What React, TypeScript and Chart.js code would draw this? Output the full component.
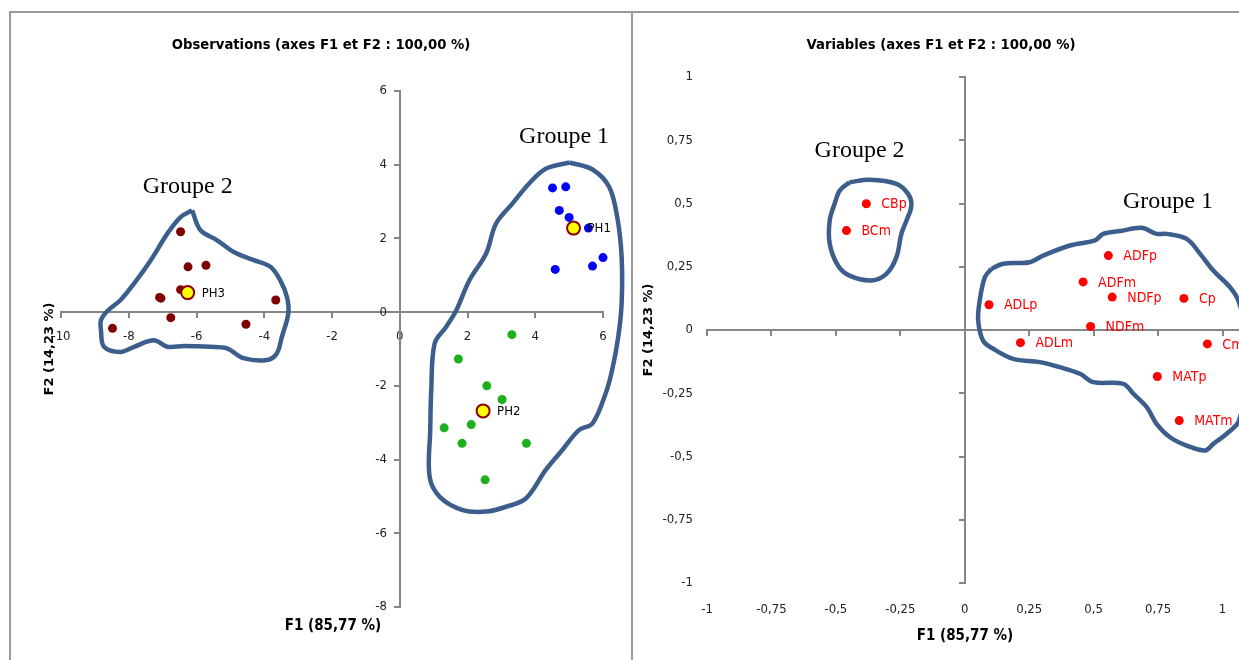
import React, { useEffect, useRef } from 'react';
import { Chart, registerables } from 'chart.js';

Chart.register(...registerables);

// ---------- Observations (left panel) ----------
const phLabels = ['PH1', 'PH2', 'PH3'];
const phF1 = [5.13, 2.46, -6.26];
const phF2 = [2.28, -2.68, 0.53];

const blueF1 = [4.51, 4.9, 4.71, 5.0, 5.57, 6.0, 5.69, 4.59];
const blueF2 = [3.37, 3.4, 2.76, 2.57, 2.28, 1.48, 1.25, 1.16];

const greenF1 = [3.31, 1.73, 2.57, 3.02, 2.11, 1.31, 1.84, 3.74, 2.52];
const greenF2 = [-0.61, -1.27, -2.0, -2.37, -3.05, -3.14, -3.56, -3.56, -4.55];

const maroonF1 = [-6.47, -6.25, -5.72, -6.47, -7.09, -7.05, -3.66, -6.76, -4.54, -8.48];
const maroonF2 = [2.18, 1.23, 1.27, 0.61, 0.4, 0.38, 0.33, -0.15, -0.33, -0.44];

const obsHull1F1 = [5.02, 5.69, 6.18, 6.42, 6.55, 6.55, 6.45, 6.27, 6.08, 5.69, 5.29, 4.8, 4.31, 3.73, 3.14, 2.55, 1.86, 1.18, 0.88, 0.9, 0.93, 1.03, 1.37, 1.67, 2.06, 2.55, 2.84, 3.33, 3.82, 4.31, 5.02];
const obsHull1F2 = [4.06, 3.87, 3.4, 2.58, 1.5, 0.24, -0.67, -1.57, -2.2, -3.02, -3.2, -3.74, -4.28, -5.05, -5.28, -5.41, -5.37, -5.01, -4.46, -3.2, -2.11, -0.85, -0.4, 0.05, 0.87, 1.59, 2.4, 2.95, 3.49, 3.89, 4.06];

const obsHull2F1 = [-6.13, -5.88, -5.39, -4.9, -4.31, -3.82, -3.53, -3.33, -3.29, -3.48, -3.63, -3.92, -4.61, -5.1, -5.59, -6.37, -6.86, -7.26, -7.84, -8.24, -8.73, -8.82, -8.82, -8.63, -8.24, -7.84, -7.35, -6.86, -6.47, -6.13];
const obsHull2F2 = [2.76, 2.22, 1.95, 1.63, 1.41, 1.23, 0.87, 0.41, -0.04, -0.67, -1.12, -1.3, -1.25, -0.98, -0.94, -0.92, -0.94, -0.76, -0.94, -1.08, -0.94, -0.49, -0.22, 0.03, 0.33, 0.78, 1.41, 2.13, 2.58, 2.76];

const obsXTicks = [-10, -8, -6, -4, -2, 0, 2, 4, 6];
const obsYTicks = [-8, -6, -4, -2, 0, 2, 4, 6];

// ---------- Variables (right panel) ----------
const varNames = ['CBp', 'BCm', 'ADFp', 'ADFm', 'NDFp', 'Cp', 'ADLp', 'NDFm', 'ADLm', 'Cm', 'MATp', 'MATm'];
const varF1 = [-0.382, -0.459, 0.557, 0.459, 0.572, 0.85, 0.094, 0.488, 0.216, 0.941, 0.747, 0.832];
const varF2 = [0.499, 0.393, 0.294, 0.19, 0.13, 0.125, 0.1, 0.014, -0.05, -0.055, -0.184, -0.358];

const varHull2F1 = [-0.447, -0.369, -0.265, -0.22, -0.207, -0.226, -0.246, -0.265, -0.304, -0.362, -0.447, -0.492, -0.524, -0.524, -0.505, -0.485, -0.447];
const varHull2F2 = [0.584, 0.594, 0.578, 0.538, 0.492, 0.433, 0.38, 0.288, 0.222, 0.196, 0.215, 0.255, 0.341, 0.433, 0.499, 0.551, 0.584];

const varHull1F1 = [0.104, 0.149, 0.252, 0.304, 0.408, 0.505, 0.537, 0.602, 0.686, 0.744, 0.783, 0.861, 0.913, 0.964, 1.029, 1.061, 1.091, 1.099, 1.064, 1.016, 0.964, 0.932, 0.861, 0.796, 0.744, 0.706, 0.654, 0.615, 0.498, 0.447, 0.369, 0.291, 0.188, 0.11, 0.071, 0.052, 0.058, 0.078, 0.104];
const varHull1F2 = [0.242, 0.262, 0.268, 0.294, 0.334, 0.354, 0.38, 0.391, 0.404, 0.38, 0.38, 0.36, 0.301, 0.235, 0.169, 0.117, -0.002, -0.16, -0.358, -0.41, -0.45, -0.476, -0.457, -0.424, -0.371, -0.305, -0.252, -0.213, -0.206, -0.173, -0.147, -0.127, -0.114, -0.074, -0.042, 0.038, 0.117, 0.209, 0.242];

const varTicks = [-1, -0.75, -0.5, -0.25, 0, 0.25, 0.5, 0.75, 1, 1.25];

// ---------- helpers ----------
const pts = (xs: number[], ys: number[]) => xs.map((v, i) => ({ x: v, y: ys[i] }));
const fr = (v: number) => String(v).replace('.', ',');

const NARROW = '"Liberation Sans Narrow", "DejaVu Sans Condensed", "Liberation Sans", sans-serif';
const SERIF = '"Liberation Serif", "Times New Roman", serif';
const AXIS_GRAY = '#868686';
const HULL = '#3B5E8C';
const HIDDEN = 'rgba(0,0,0,0)';

type TextItem = { text: string; x: number; y: number; font: string; color?: string; rotate?: boolean };
type GroupItem = { text: string; f1: number; f2: number };

function makeAnnotate(texts: TextItem[], groups: GroupItem[]) {
  return {
    id: 'annotate',
    afterDatasetsDraw(chart: any) {
      const ctx = chart.ctx as CanvasRenderingContext2D;
      const xs = chart.scales.x;
      const ys = chart.scales.y;
      ctx.save();
      chart.data.datasets.forEach((ds: any, i: number) => {
        if (!ds.pointLabels) return;
        const meta = chart.getDatasetMeta(i);
        ctx.font = ds.labelFont;
        ctx.fillStyle = ds.labelColor;
        ctx.textAlign = 'left';
        ctx.textBaseline = 'middle';
        meta.data.forEach((el: any, j: number) => {
          ctx.fillText(ds.pointLabels[j], el.x + ds.labelOffset, el.y + 1);
        });
      });
      ctx.font = '24px ' + SERIF;
      ctx.fillStyle = '#000';
      ctx.textAlign = 'center';
      ctx.textBaseline = 'middle';
      groups.forEach((g) => {
        ctx.fillText(g.text, xs.getPixelForValue(g.f1), ys.getPixelForValue(g.f2));
      });
      texts.forEach((t) => {
        ctx.save();
        ctx.font = t.font;
        ctx.fillStyle = t.color || '#000';
        ctx.textAlign = 'center';
        ctx.textBaseline = 'middle';
        ctx.translate(t.x, t.y);
        if (t.rotate) ctx.rotate(-Math.PI / 2);
        ctx.fillText(t.text, 0, 0);
        ctx.restore();
      });
      ctx.restore();
    },
  };
}

const tickFont = () => ({ family: NARROW, size: 13 });
const lineGrid = () => ({ drawOnChartArea: false, drawTicks: true, tickLength: 5, color: AXIS_GRAY, lineWidth: 2 });
const lineBorder = () => ({ display: true, color: AXIS_GRAY, width: 2 });

function ObsChart() {
  const ref = useRef<HTMLCanvasElement>(null);
  useEffect(() => {
    const hull = (xs: number[], ys: number[]) => ({
      data: pts(xs, ys),
      showLine: true,
      borderColor: HULL,
      borderWidth: 4.5,
      pointRadius: 0,
      tension: 0.35,
      fill: false,
      clip: false,
    });
    const chart = new Chart(ref.current as HTMLCanvasElement, {
      type: 'scatter',
      data: {
        datasets: [
          {
            data: pts(phF1, phF2),
            backgroundColor: '#FFFF00',
            borderColor: '#8B0000',
            borderWidth: 2,
            pointRadius: 6.5,
            pointHoverRadius: 6.5,
            clip: false,
            pointLabels: phLabels,
            labelFont: '13px ' + NARROW,
            labelColor: '#000',
            labelOffset: 14,
          } as any,
          { data: pts(blueF1, blueF2), backgroundColor: '#0000FF', borderWidth: 0, pointRadius: 4.5, clip: false },
          { data: pts(greenF1, greenF2), backgroundColor: '#1CB01C', borderWidth: 0, pointRadius: 4.5, clip: false },
          { data: pts(maroonF1, maroonF2), backgroundColor: '#800000', borderWidth: 0, pointRadius: 4.5, clip: false },
          hull(obsHull1F1, obsHull1F2),
          hull(obsHull2F1, obsHull2F2),
        ],
      },
      options: {
        animation: false,
        responsive: false,
        events: [],
        layout: { padding: { left: 61, right: 29, top: 91, bottom: 53 } },
        plugins: { legend: { display: false }, tooltip: { enabled: false }, title: { display: false } },
        scales: {
          x: {
            type: 'linear',
            min: -10,
            max: 6,
            position: { y: 0 } as any,
            afterBuildTicks: (s: any) => { s.ticks = obsXTicks.map((v) => ({ value: v })); },
            ticks: { font: tickFont(), color: '#222', padding: 12, autoSkip: false, maxRotation: 0, callback: (v: any) => fr(v) },
            grid: lineGrid(),
            border: lineBorder(),
          },
          y: {
            type: 'linear',
            min: -8,
            max: 6,
            position: { x: -0.38 } as any,
            afterBuildTicks: (s: any) => { s.ticks = obsYTicks.map((v) => ({ value: v })); },
            ticks: { font: tickFont(), color: '#222', padding: 0, autoSkip: false, callback: (v: any) => fr(v) },
            grid: { display: false },
            border: { display: false },
          },
          y2: {
            type: 'linear',
            axis: 'y',
            min: -8,
            max: 6,
            position: { x: 0 } as any,
            afterBuildTicks: (s: any) => { s.ticks = obsYTicks.map((v) => ({ value: v })); },
            ticks: { color: HIDDEN, autoSkip: false },
            grid: lineGrid(),
            border: lineBorder(),
          },
        },
      } as any,
      plugins: [
        makeAnnotate(
          [
            { text: 'Observations (axes F1 et F2 : 100,00 %)', x: 321, y: 45, font: 'bold 14.7px ' + NARROW },
            { text: 'F1 (85,77 %)', x: 333, y: 626, font: 'bold 15px ' + NARROW },
            { text: 'F2 (14,23 %)', x: 50, y: 349, font: 'bold 13px "DejaVu Sans", sans-serif', rotate: true },
          ],
          [
            { text: 'Groupe 1', f1: 4.85, f2: 4.77 },
            { text: 'Groupe 2', f1: -6.26, f2: 3.41 },
          ]
        ) as any,
      ],
    });
    return () => chart.destroy();
  }, []);
  return <canvas ref={ref} width={632} height={660} style={{ position: 'absolute', left: 0, top: 0, width: 632, height: 660 }} />;
}

function VarChart() {
  const ref = useRef<HTMLCanvasElement>(null);
  useEffect(() => {
    const hull = (xs: number[], ys: number[]) => ({
      data: pts(xs, ys),
      showLine: true,
      borderColor: HULL,
      borderWidth: 4.5,
      pointRadius: 0,
      tension: 0.35,
      fill: false,
      clip: false,
    });
    const chart = new Chart(ref.current as HTMLCanvasElement, {
      type: 'scatter',
      data: {
        datasets: [
          {
            data: pts(varF1, varF2),
            backgroundColor: '#FF0000',
            borderWidth: 0,
            pointRadius: 4.5,
            clip: false,
            pointLabels: varNames,
            labelFont: '14px ' + NARROW,
            labelColor: '#FF0000',
            labelOffset: 15,
          } as any,
          hull(varHull1F1, varHull1F2),
          hull(varHull2F1, varHull2F2),
        ],
      },
      options: {
        animation: false,
        responsive: false,
        events: [],
        layout: { padding: { left: 75, right: 45, top: 77, bottom: 77 } },
        plugins: { legend: { display: false }, tooltip: { enabled: false }, title: { display: false } },
        scales: {
          x: {
            type: 'linear',
            min: -1,
            max: 1.25,
            position: { y: -1 } as any,
            afterBuildTicks: (s: any) => { s.ticks = varTicks.map((v) => ({ value: v })); },
            ticks: { font: tickFont(), color: '#222', padding: 11, autoSkip: false, maxRotation: 0, callback: (v: any) => fr(v) },
            grid: { display: false },
            border: { display: false },
          },
          y: {
            type: 'linear',
            min: -1,
            max: 1,
            position: { x: -1.055 } as any,
            afterBuildTicks: (s: any) => { s.ticks = varTicks.filter((v) => v <= 1).map((v) => ({ value: v })); },
            ticks: { font: tickFont(), color: '#222', padding: 0, autoSkip: false, callback: (v: any) => fr(v) },
            grid: { display: false },
            border: { display: false },
          },
          x2: {
            type: 'linear',
            axis: 'x',
            min: -1,
            max: 1.25,
            position: { y: 0 } as any,
            afterBuildTicks: (s: any) => { s.ticks = varTicks.map((v) => ({ value: v })); },
            ticks: { color: HIDDEN, autoSkip: false, maxRotation: 0 },
            grid: lineGrid(),
            border: lineBorder(),
          },
          y2: {
            type: 'linear',
            axis: 'y',
            min: -1,
            max: 1,
            position: { x: 0 } as any,
            afterBuildTicks: (s: any) => { s.ticks = varTicks.filter((v) => v <= 1).map((v) => ({ value: v })); },
            ticks: { color: HIDDEN, autoSkip: false },
            grid: lineGrid(),
            border: lineBorder(),
          },
        },
      } as any,
      plugins: [
        makeAnnotate(
          [
            { text: 'Variables (axes F1 et F2 : 100,00 %)', x: 309, y: 45, font: 'bold 14.7px ' + NARROW },
            { text: 'F1 (85,77 %)', x: 333, y: 636, font: 'bold 15px ' + NARROW },
            { text: 'F2 (14,23 %)', x: 17, y: 330, font: 'bold 13px "DejaVu Sans", sans-serif', rotate: true },
          ],
          [
            { text: 'Groupe 2', f1: -0.408, f2: 0.709 },
            { text: 'Groupe 1', f1: 0.788, f2: 0.508 },
          ]
        ) as any,
      ],
    });
    return () => chart.destroy();
  }, []);
  return <canvas ref={ref} width={700} height={660} style={{ position: 'absolute', left: 632, top: 0, width: 700, height: 660 }} />;
}

export default function App() {
  const line = '#999999';
  return (
    <div style={{ position: 'fixed', left: 0, top: 0, width: 1239, height: 660, overflow: 'hidden', background: '#fff' }}>
      <ObsChart />
      <VarChart />
      <div style={{ position: 'absolute', left: 10, top: 11, width: 1229, height: 2, background: line }} />
      <div style={{ position: 'absolute', left: 9, top: 11, width: 2, height: 649, background: line }} />
      <div style={{ position: 'absolute', left: 631, top: 11, width: 2, height: 649, background: line }} />
    </div>
  );
}
